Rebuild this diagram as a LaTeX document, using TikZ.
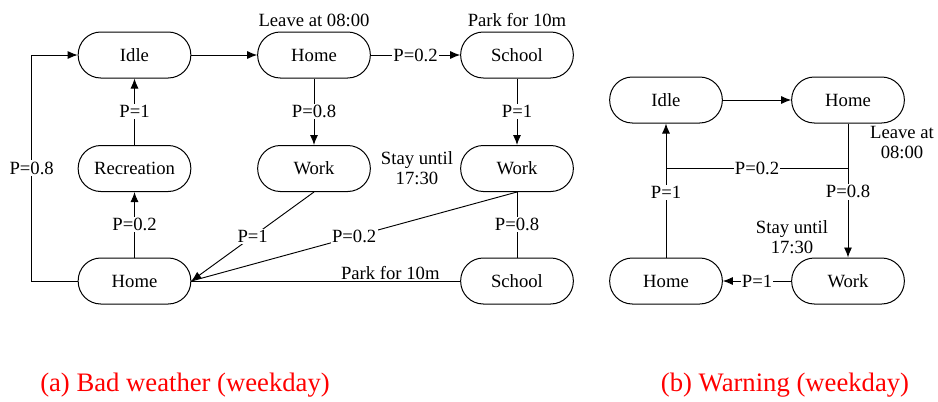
\documentclass[tikz,border=0pt]{standalone}
\usepackage{fontspec}
\setmainfont{Liberation Serif}
\usetikzlibrary{arrows.meta}
\tikzset{
  state/.style={draw,line width=.75pt,rounded corners=17pt,minimum width=84.5pt,minimum height=34.5pt,
    font=\fontsize{14}{16}\selectfont},
  lbl/.style={fill=white,inner sep=1pt,font=\fontsize{14}{16}\selectfont},
  note/.style={align=center,font=\fontsize{14}{16}\selectfont},
  captext/.style={text=red,font=\fontsize{20}{22}\selectfont},
  >={Latex[length=7.5pt,width=6pt]}
}
\begin{document}
\begin{tikzpicture}[x=0.75pt,y=-0.75pt,line width=.7pt]
  \useasboundingbox (0,0) rectangle (938,401);
  % (a) bad weather
  \node[state] (idle) at (134.5,55) {Idle};
  \node[state] (home) at (314,55) {Home};
  \node[state] (school) at (517,55) {School};
  \node[state] (rec) at (134.5,168.5) {Recreation};
  \node[state] (workm) at (314,168.5) {Work};
  \node[state] (workr) at (517,168.5) {Work};
  \node[state] (homeb) at (134.5,281) {Home};
  \node[state] (schoolb) at (517,281) {School};
  \node[note] (leave) at (314,20) {Leave at 08:00};
  \node[note] (park) at (517,20) {Park for 10m};
  \node[note,font=\fontsize{14}{15}\selectfont] (stay) at (417,168) {Stay until\\17:30};
  \draw[->] (idle) -- (home);
  \draw[->] (home) -- node[lbl]{P=0.2} (school);
  \draw[->] (home) -- node[lbl]{P=0.8} (workm);
  \draw[->] (school) -- node[lbl]{P=1} (workr);
  \draw[->] (rec) -- node[lbl]{P=1} (idle);
  \draw[->] (homeb) -- node[lbl]{P=0.2} (rec);
  \draw (workr) -- node[lbl]{P=0.8} (schoolb);
  \draw[->] (homeb.west) -- ++(-46,0) |- node[lbl,pos=.25]{P=0.8} (idle.west);
  \draw[->] (workm.south) -- node[lbl]{P=1} (homeb.east);
  \draw (workr.south) -- node[lbl]{P=0.2} (homeb.east);
  \draw (schoolb.west) -- node[note,above,pos=.26,inner sep=1pt]{Park for 10m} (homeb.east);
  % (b) warning
  \node[state] (idle2) at (666,100) {Idle};
  \node[state] (home2) at (848,100) {Home};
  \node[state] (homeb2) at (666,281) {Home};
  \node[state] (work2) at (848,281) {Work};
  \coordinate (j1) at (848,168);
  \coordinate (j2) at (666,168);
  \node[note,font=\fontsize{14}{15}\selectfont] (leave2) at (902,143) {Leave at\\08:00};
  \node[note,font=\fontsize{14}{15}\selectfont] (stay2) at (792,237) {Stay until\\17:30};
  \draw[->] (idle2) -- (home2);
  \draw[->] (home2) -- node[lbl,pos=.51]{P=0.8} (work2);
  \draw[->] (j1) -- node[lbl,pos=.5]{P=0.2} (j2) -- (idle2);
  \draw (homeb2) -- node[lbl,pos=.73]{P=1} (j2);
  \draw[->] (work2) -- node[lbl]{P=1} (homeb2);
  % captions
  \node[captext] (capa) at (185,385) {(a) Bad weather (weekday)};
  \node[captext] (capb) at (785,385) {(b) Warning (weekday)};
\end{tikzpicture}
\end{document}
